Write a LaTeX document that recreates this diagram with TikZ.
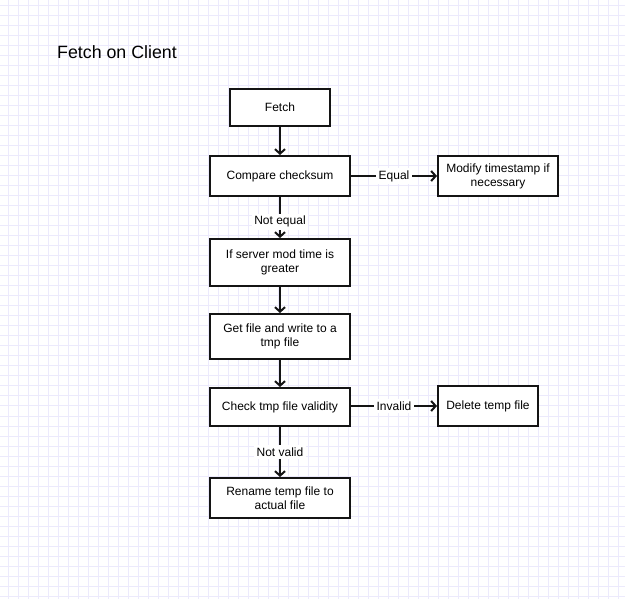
\documentclass[tikz,border=0pt]{standalone}
\usepackage{fontspec}
\setmainfont{Liberation Sans}
\usetikzlibrary{arrows.meta}
\definecolor{gridc}{RGB}{236,234,252}
\definecolor{strk}{RGB}{20,20,20}
\tikzset{
  box/.style={draw=strk, line width=2pt, fill=white, minimum width=140pt, minimum height=40pt, align=center, inner sep=2pt, font=\fontsize{12}{14}\selectfont},
  conn/.style={draw=strk, line width=2pt, -{Straight Barb[length=4.5pt,width=10pt]}},
  elabel/.style={fill=white, inner sep=2.5pt, font=\fontsize{12}{14}\selectfont},
}
\begin{document}
\begin{tikzpicture}[x=1pt,y=-1pt]
\useasboundingbox (0,0) rectangle (625,599);
\fill[white] (0,0) rectangle (625,599);
\foreach \i in {0,...,61} \draw[gridc, line width=1pt] (8.3+10*\i,0) -- (8.3+10*\i,599);
\foreach \j in {0,...,59} \draw[gridc, line width=1pt] (0,6+10*\j) -- (625,6+10*\j);

\node[font=\fontsize{17.8}{20}\selectfont, inner sep=0pt] (title) at (117,52) {Fetch on Client};

\node[box, minimum width=100pt, minimum height=37pt] (fetch) at (280,107.5) {Fetch};
\node[box] (compare) at (280,176) {Compare checksum};
\node[box, minimum width=120pt] (modify) at (498,176) {Modify timestamp if\\necessary};
\node[box, minimum height=47pt] (server) at (280,262.5) {If server mod time is\\greater};
\node[box, minimum height=45pt] (getfile) at (280,336.5) {Get file and write to a\\tmp file};
\node[box, minimum height=38pt] (check) at (280,407) {Check tmp file validity};
\node[box, minimum width=100pt] (delete) at (488,406) {Delete temp file};
\node[box] (rename) at (280,498) {Rename temp file to\\actual file};

\draw[conn] (fetch) -- (compare);
\draw[conn] (compare) -- node[elabel]{Equal} (modify);
\draw[conn] (compare) -- node[elabel, pos=0.6]{Not equal} (server);
\draw[conn] (server) -- (getfile);
\draw[conn] (getfile) -- (check);
\draw[conn] (check.east |- delete) -- node[elabel]{Invalid} (delete);
\draw[conn] (check) -- node[elabel]{Not valid} (rename);
\end{tikzpicture}
\end{document}
